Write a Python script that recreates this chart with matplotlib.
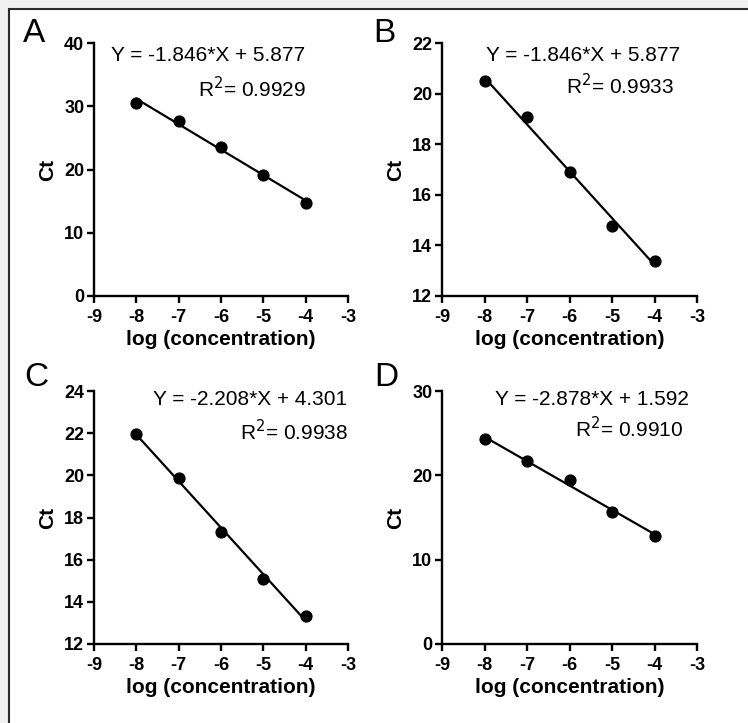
import numpy as np
import matplotlib
matplotlib.use("Agg")
import matplotlib.pyplot as plt
from matplotlib.patches import Rectangle

plt.rcParams['font.family'] = ['Liberation Sans', 'DejaVu Sans']
plt.rcParams['axes.unicode_minus'] = False

# data
log_conc = [-8, -7, -6, -5, -4]
ct_a = [30.55, 27.7, 23.6, 19.1, 14.75]
ct_b = [20.5, 19.09, 16.89, 14.78, 13.4]
ct_c = [21.97, 19.88, 17.31, 15.1, 13.32]
ct_d = [24.26, 21.7, 19.5, 15.66, 12.85]

panel_letters = ["A", "B", "C", "D"]
equations = ["Y = -1.846*X + 5.877", "Y = -1.846*X + 5.877",
             "Y = -2.208*X + 4.301", "Y = -2.878*X + 1.592"]
r_squared = ["0.9929", "0.9933", "0.9938", "0.9910"]
y_limits = [(0, 40), (12, 22), (12, 24), (0, 30)]
y_ticks = [[0, 10, 20, 30, 40], [12, 14, 16, 18, 20, 22],
           [12, 14, 16, 18, 20, 22, 24], [0, 10, 20, 30]]
x_ticks = [-9, -8, -7, -6, -5, -4, -3]

W, H = 748, 723
fig = plt.figure(figsize=(W / 100, H / 100), dpi=100, facecolor="#f0f0f0")

# white frame with a dark border on the top/left
frame = Rectangle((9 / W, -0.1), 1.2, (H - 9) / H + 0.1,
                  transform=fig.transFigure, facecolor="white",
                  edgecolor="#2b2b2b", linewidth=1.5, zorder=-10)
fig.patches.append(frame)

# axes boxes in pixels: left, right, top, bottom
boxes = [(94, 348, 43, 296), (442, 697, 43, 296),
         (94, 348, 391, 644), (442, 697, 391, 644)]
eq_pos = [(-4.02, 0.95, -4.0, 0.82), (-3.39, 0.95, -3.53, 0.83),
          (-3.03, 0.968, -3.0, 0.84), (-3.18, 0.968, -3.32, 0.85)]
letter_pos = [(34, 34), (384, 34), (36, 377), (386, 377)]

all_ct = [ct_a, ct_b, ct_c, ct_d]
for i, ct in enumerate(all_ct):
    l, r, t, b = boxes[i]
    ax = fig.add_axes([l / W, (H - b) / H, (r - l) / W, (b - t) / H])
    ax.set_facecolor("none")
    ax.set_zorder(5)
    x = np.array(log_conc, dtype=float)
    y = np.array(ct)
    slope, icpt = np.polyfit(x, y, 1)
    ax.plot(x, slope * x + icpt, color="black", lw=1.6, zorder=2)
    ax.plot(x, y, "o", color="black", ms=7.8, zorder=3)

    ax.set_xlim(-9, -3)
    ax.set_ylim(*y_limits[i])
    ax.set_xticks(x_ticks)
    ax.set_yticks(y_ticks[i])
    for s in ["top", "right"]:
        ax.spines[s].set_visible(False)
    for s in ["left", "bottom"]:
        ax.spines[s].set_linewidth(1.7)
    ax.tick_params(direction="out", length=5, width=1.7, labelsize=13)
    ax.tick_params(axis="x", pad=4)
    ax.tick_params(axis="y", pad=2)
    for lab in ax.get_xticklabels() + ax.get_yticklabels():
        lab.set_fontweight("bold")
    ax.set_xlabel("log (concentration)", fontsize=15, fontweight="bold", labelpad=3)
    ax.set_ylabel("Ct", fontsize=15, fontweight="bold", labelpad=5)

    ex, ey, rx, ry = eq_pos[i]
    ax.text(ex, ey, equations[i], transform=ax.get_xaxis_transform(),
            ha="right", va="center", fontsize=15)
    ax.text(rx, ry, "R$^2$= " + r_squared[i], transform=ax.get_xaxis_transform(),
            ha="right", va="center", fontsize=15)

    lx, ly = letter_pos[i]
    fig.text(lx / W, 1 - ly / H, panel_letters[i], ha="center", va="center",
             fontsize=24)

fig.savefig("out.png", dpi=100, facecolor=fig.get_facecolor())
